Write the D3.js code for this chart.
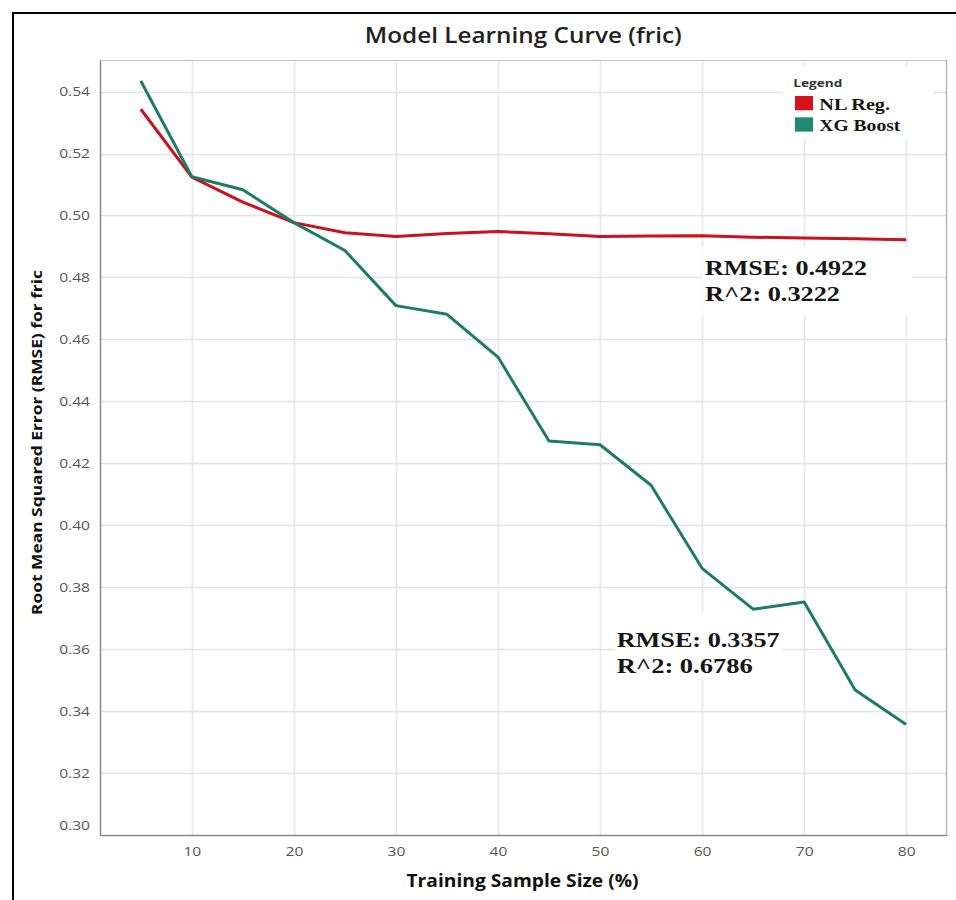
<!DOCTYPE html>
<html>
<head>
<meta charset="utf-8">
<script src="https://cdn.jsdelivr.net/npm/d3@7/dist/d3.min.js"></script>
<style>
  html, body { margin: 0; padding: 0; background: #fff; }
  svg { display: block; }
</style>
</head>
<body>
<svg id="chart" width="956" height="900"></svg>
<script>
// Training sample sizes (%) and RMSE per model
const sampleSizes = [5, 10, 15, 20, 25, 30, 35, 40, 45, 50, 55, 60, 65, 70, 75, 80];
const nlReg   = [0.5343, 0.5124, 0.5043, 0.4977, 0.4944, 0.4932, 0.4942, 0.4948,
                 0.4941, 0.4932, 0.4934, 0.4935, 0.4930, 0.4927, 0.4925, 0.4922];
const xgBoost = [0.5434, 0.5125, 0.5083, 0.4977, 0.4887, 0.4709, 0.4681, 0.4543,
                 0.4272, 0.4260, 0.4129, 0.3861, 0.3729, 0.3752, 0.3468, 0.3357];
const seriesNames = ["NL Reg.", "XG Boost"];
const seriesR2 = [0.3222, 0.6786];
const xTicks = [10, 20, 30, 40, 50, 60, 70, 80];
const yTicks = [0.30, 0.32, 0.34, 0.36, 0.38, 0.40, 0.42, 0.44, 0.46, 0.48, 0.50, 0.52, 0.54];

const colors = ["#c9121d", "#1e7c66"];
const swatchColors = ["#d5121b", "#1f8a72"];
const SX = 1.2; // horizontal glyph stretch

const svg = d3.select("#chart");
const plot = { left: 100, right: 947, top: 60, bottom: 835 };

const x = d3.scaleLinear().domain([1, 84]).range([plot.left, plot.right]);
const y = d3.scaleLinear().domain([0.30, 0.5502]).range([plot.bottom, plot.top]);

// outer frame (left and top edges)
svg.append("path")
  .attr("d", "M13,900 V13 H956")
  .attr("fill", "none").attr("stroke", "#000").attr("stroke-width", 2);

// title
svg.append("text")
  .attr("x", 523.3).attr("y", 43.3)
  .attr("text-anchor", "middle")
  .attr("textLength", 317).attr("lengthAdjust", "spacingAndGlyphs")
  .style("font-family", "'Open Sans', sans-serif").style("font-weight", 600)
  .style("font-size", "21px").style("fill", "#222")
  .text("Model Learning Curve (fric)");

// gridlines
const grid = svg.append("g");
grid.selectAll(".gy").data(yTicks.filter(d => d > 0.30)).join("line")
  .attr("x1", plot.left).attr("x2", plot.right)
  .attr("y1", d => Math.round(y(d)) + 0.5).attr("y2", d => Math.round(y(d)) + 0.5)
  .attr("stroke", "#e4e4e4").attr("stroke-width", 1.3);
grid.selectAll(".gx").data(xTicks).join("line")
  .attr("y1", plot.top).attr("y2", plot.bottom)
  .attr("x1", d => Math.round(x(d)) + 0.5).attr("x2", d => Math.round(x(d)) + 0.5)
  .attr("stroke", "#e8e8e8").attr("stroke-width", 1.6);

// plot frame
svg.append("line").attr("x1", plot.left).attr("x2", plot.right)
  .attr("y1", plot.top + 0.5).attr("y2", plot.top + 0.5).attr("stroke", "#c4c4c4");
svg.append("line").attr("x1", plot.right - 0.5).attr("x2", plot.right - 0.5)
  .attr("y1", plot.top).attr("y2", plot.bottom).attr("stroke", "#b8b8b8").attr("stroke-width", 1.5);

// axes
const yAxis = svg.append("g")
  .attr("transform", `translate(${plot.left},0)`)
  .call(d3.axisLeft(y).tickValues(yTicks).tickFormat(d3.format(".2f")).tickSize(0).tickPadding(10));
const xAxis = svg.append("g")
  .attr("transform", `translate(0,${plot.bottom})`)
  .call(d3.axisBottom(x).tickValues(xTicks).tickFormat(d3.format("d")).tickSize(0).tickPadding(12));

[yAxis, xAxis].forEach(ax => {
  ax.select(".domain").attr("stroke", "#8a8a8a").attr("stroke-width", 1.5);
  ax.selectAll("text")
    .style("font-family", "'Open Sans', sans-serif")
    .style("font-size", "13px").style("fill", "#555");
});
yAxis.selectAll("text")
  .attr("x", -10 / SX)
  .attr("transform", d => `scale(${SX},1)` + (d === 0.30 ? " translate(0,-10)" : ""));
xAxis.selectAll("text").attr("transform", `scale(${SX},1)`)
  .each(function () { const t = d3.select(this.parentNode).attr("transform");
    const tx = +t.match(/translate\(([-\d.]+)/)[1];
    d3.select(this.parentNode).attr("transform", `translate(${tx},0)`); });

// axis titles
svg.append("text")
  .attr("transform", "translate(42,442.5) rotate(-90)")
  .attr("text-anchor", "middle")
  .attr("textLength", 345).attr("lengthAdjust", "spacingAndGlyphs")
  .style("font-family", "'Open Sans', sans-serif").style("font-weight", 700)
  .style("font-size", "15px").style("fill", "#111")
  .text("Root Mean Squared Error (RMSE) for fric");
svg.append("text")
  .attr("x", 522.5).attr("y", 887)
  .attr("text-anchor", "middle")
  .attr("textLength", 232).attr("lengthAdjust", "spacingAndGlyphs")
  .style("font-family", "'Open Sans', sans-serif").style("font-weight", 700)
  .style("font-size", "17px").style("fill", "#111")
  .text("Training Sample Size (%)");

// annotation backgrounds
const annot = [
  { box: [702, 247, 210, 68], x0: 705, y0: 275, w1: 162, w2: 135 },
  { box: [615, 613, 167, 64], x0: 616.7, y0: 646.7, w1: 163, w2: 136 }
];
svg.selectAll(".abox").data(annot).join("rect")
  .attr("x", d => d.box[0]).attr("y", d => d.box[1])
  .attr("width", d => d.box[2]).attr("height", d => d.box[3])
  .attr("fill", "#fff");

// legend background
svg.append("rect").attr("x", 783).attr("y", 67).attr("width", 150).attr("height", 72).attr("fill", "#fff");

// lines
const series = [nlReg, xgBoost];
const line = d3.line().x((d, i) => x(sampleSizes[i])).y(d => y(d));
svg.selectAll(".series").data(series).join("path")
  .attr("d", d => line(d))
  .attr("fill", "none")
  .attr("stroke", (d, i) => colors[i])
  .attr("stroke-width", 3)
  .attr("stroke-linejoin", "round");

// annotations with final metrics
const fmt = d3.format(".4f");
annot.forEach((a, i) => {
  const vals = series[i];
  const lines = [`RMSE: ${fmt(vals[vals.length - 1])}`, `R^2: ${fmt(seriesR2[i])}`];
  const g = svg.append("g").style("font-family", "'Liberation Serif', 'Times New Roman', serif")
    .style("font-weight", 700).style("font-size", "21.5px").style("fill", "#151515");
  g.append("text").attr("x", a.x0).attr("y", a.y0)
    .attr("textLength", a.w1).attr("lengthAdjust", "spacingAndGlyphs").text(lines[0]);
  g.append("text").attr("x", a.x0).attr("y", a.y0 + 26)
    .attr("textLength", a.w2).attr("lengthAdjust", "spacingAndGlyphs").text(lines[1]);
});

// legend
const legend = svg.append("g");
legend.append("text").attr("x", 793.3).attr("y", 87.3)
  .attr("textLength", 49).attr("lengthAdjust", "spacingAndGlyphs")
  .style("font-family", "'Open Sans', sans-serif").style("font-weight", 700)
  .style("font-size", "10px").style("fill", "#333").text("Legend");
const legendWidths = [70.7, 81];
const items = legend.selectAll(".item").data(seriesNames).join("g")
  .attr("transform", (d, i) => `translate(795,${96 + i * 21.3})`);
items.append("rect").attr("width", 18).attr("height", 14.3)
  .attr("fill", (d, i) => swatchColors[i]);
items.append("text").attr("x", 24.3).attr("y", 14)
  .attr("textLength", (d, i) => legendWidths[i]).attr("lengthAdjust", "spacingAndGlyphs")
  .style("font-family", "'Liberation Serif', 'Times New Roman', serif")
  .style("font-weight", 700).style("font-size", "16.5px").style("fill", "#151515")
  .text(d => d);
</script>
</body>
</html>
